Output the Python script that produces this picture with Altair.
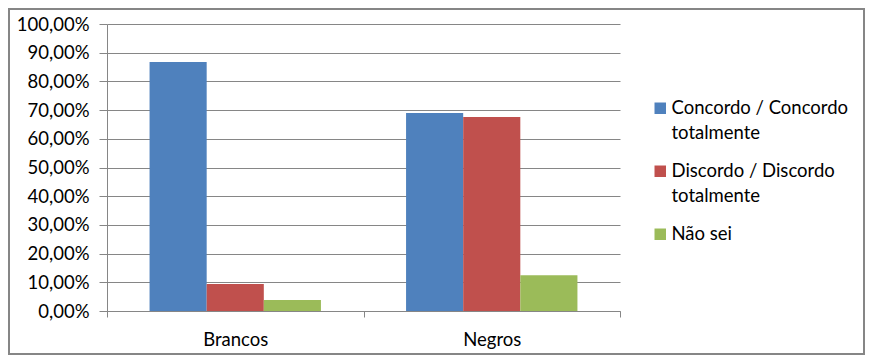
import altair as alt
import pandas as pd

categories = ["Brancos", "Negros"]
series = ["Concordo / Concordo totalmente", "Discordo / Discordo totalmente", "Não sei"]
concordo = [86.8, 69.0]
discordo = [9.4, 67.6]
nao_sei = [3.8, 12.5]
colors = ["#4F81BD", "#C0504D", "#9BBB59"]
y_ticks = [0, 10, 20, 30, 40, 50, 60, 70, 80, 90, 100]

rows = []
for i, c in enumerate(categories):
    for s, vals in zip(series, [concordo, discordo, nao_sei]):
        rows.append({"grupo": c, "serie": s, "valor": vals[i]})
df = pd.DataFrame(rows)

W, H = 513, 287
FONT = "Lato"
FS = 18.5
GRAY = "#868686"

bars = alt.Chart(df).mark_bar().encode(
    x=alt.X("grupo:N", sort=categories, title=None,
            scale=alt.Scale(paddingInner=0, paddingOuter=0),
            axis=alt.Axis(labelAngle=0, tickBand="extent", tickSize=6, tickColor=GRAY,
                          domainColor=GRAY, labelPadding=13, grid=False)),
    xOffset=alt.XOffset("serie:N", sort=series,
                        scale=alt.Scale(paddingInner=0, paddingOuter=0.745)),
    y=alt.Y("valor:Q", title=None, scale=alt.Scale(domain=[0, 100], nice=False),
            axis=alt.Axis(values=y_ticks, grid=True, gridColor=GRAY, tickColor=GRAY,
                          domainColor=GRAY, tickSize=8, labelPadding=10,
                          labelExpr="replace(format(datum.value, '.2f'), '.', ',') + '%'")),
    color=alt.Color("serie:N", sort=series,
                    scale=alt.Scale(domain=series, range=colors),
                    legend=alt.Legend(title=None, orient="none", legendX=544, legendY=75,
                                      symbolType="square", symbolSize=132,
                                      symbolStrokeWidth=0, padding=0, rowPadding=19,
                                      labelOffset=2, labelLimit=300,
                                      labelExpr="indexof(datum.label, ' totalmente') > 0 ? [replace(datum.label, ' totalmente', ''), 'totalmente'] : datum.label")),
)

frame = alt.Chart(pd.DataFrame({"a": [0]})).mark_rect(
    fill=None, stroke=GRAY, strokeWidth=2
).encode(
    x=alt.value(-98), x2=alt.value(W + 244),
    y=alt.value(-15), y2=alt.value(H + 43),
)

chart = alt.layer(frame, bars).properties(
    width=W, height=H,
    autosize=alt.AutoSizeParams(type="none"),
    padding={"left": 99, "top": 16, "right": 245, "bottom": 44},
).configure_view(stroke=None).configure_axis(
    labelFont=FONT, labelFontSize=FS, labelColor="black"
).configure_legend(
    labelFont=FONT, labelFontSize=FS, labelColor="black"
)
chart.config.style = {"guide-label": {"lineHeight": 25}}

chart.save("out.html", embed_options={"renderer": "svg", "actions": False})
